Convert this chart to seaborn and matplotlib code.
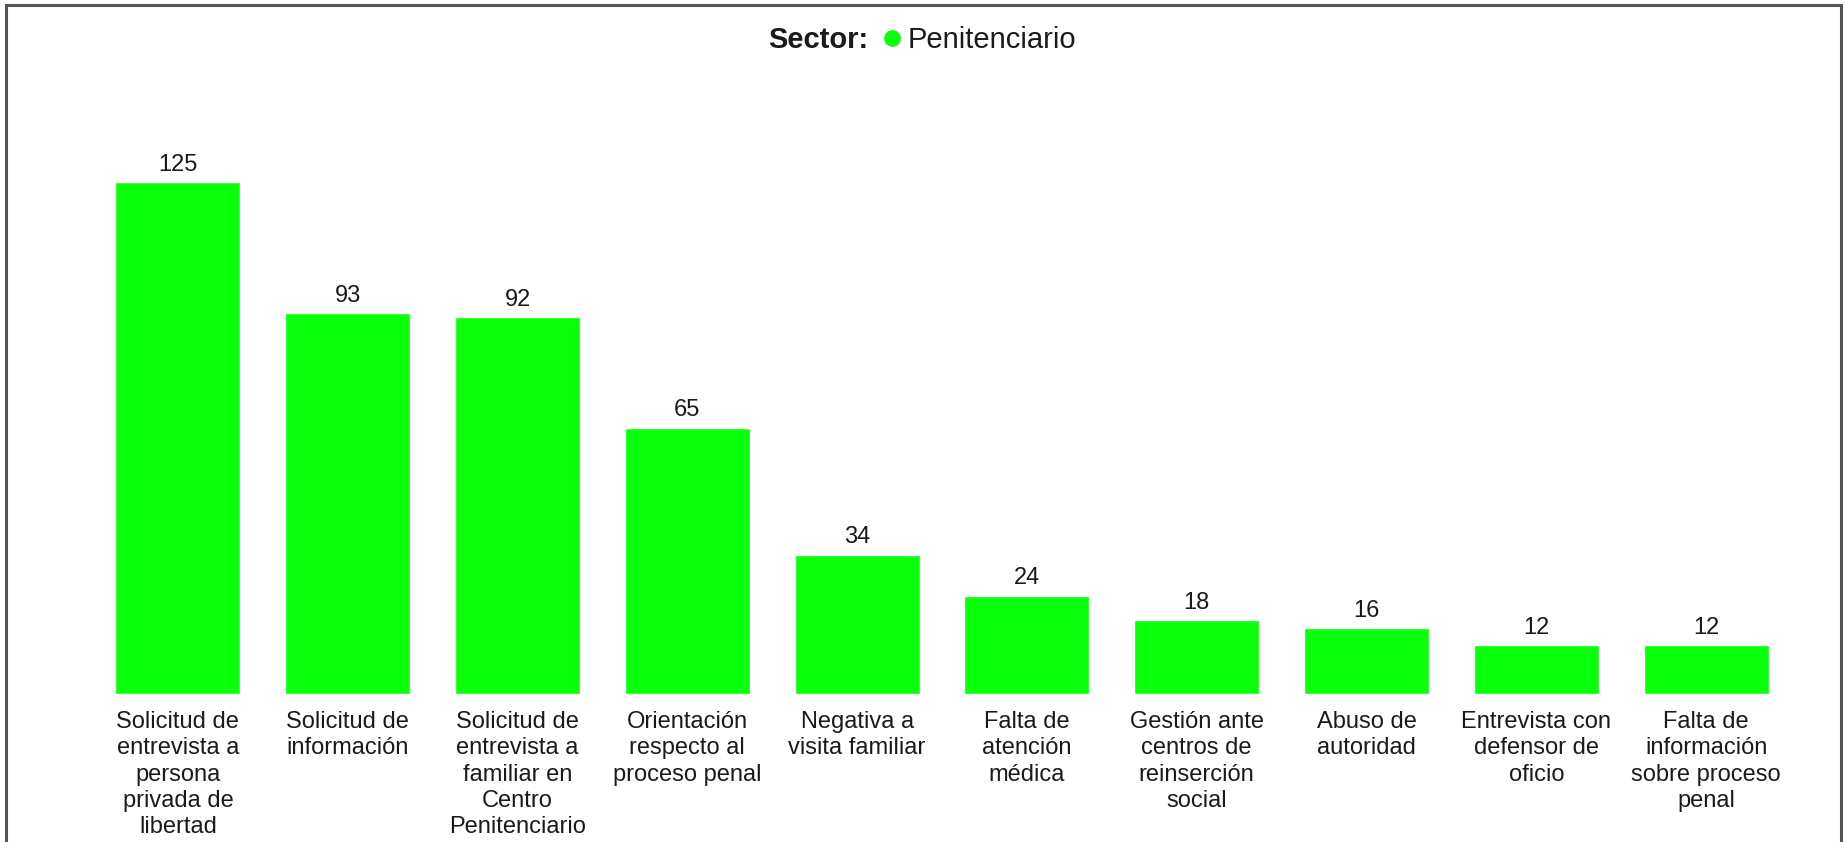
import numpy as np
import pandas as pd
import matplotlib.pyplot as plt
import seaborn as sns
from matplotlib.lines import Line2D
from matplotlib.patches import Rectangle

# datos del gráfico
categorias = [
    "Solicitud de\nentrevista a\npersona\nprivada de\nlibertad",
    "Solicitud de\ninformación",
    "Solicitud de\nentrevista a\nfamiliar en\nCentro\nPenitenciario",
    "Orientación\nrespecto al\nproceso penal",
    "Negativa a\nvisita familiar",
    "Falta de\natención\nmédica",
    "Gestión ante\ncentros de\nreinserción\nsocial",
    "Abuso de\nautoridad",
    "Entrevista con\ndefensor de\noficio",
    "Falta de\ninformación\nsobre proceso\npenal",
]
valores = [125, 93, 92, 65, 34, 24, 18, 16, 12, 12]
sector = "Penitenciario"
verde = "#0aff0a"

sns.set_style("white")
plt.rcParams['font.family'] = ['Liberation Sans', 'DejaVu Sans']

df = pd.DataFrame({"categoria": categorias, "valor": valores})

fig = plt.figure(figsize=(18.45, 8.42), dpi=100)
ax = fig.add_axes([93 / 1845, 148 / 842, 1698 / 1845, 594 / 842])

sns.barplot(data=df, x="categoria", y="valor", color=verde, saturation=1,
            width=0.736, ax=ax)

ax.bar_label(ax.containers[0], fontsize=17, padding=4.5, color="#1a1a1a")

ax.set_xlim(-0.5, len(categorias) - 0.5)
ax.set_ylim(0, 145)
ax.set_xlabel("")
ax.set_ylabel("")
ax.set_yticks([])
ax.tick_params(axis="x", length=0, pad=12.5, labelsize=17, labelcolor="#1a1a1a")
for lbl in ax.get_xticklabels():
    lbl.set_linespacing(1.24)
sns.despine(ax=ax, left=True, bottom=True)

# leyenda arriba
fig.text(868 / 1845, 1 - 40 / 842, "Sector:", ha="right", va="center",
         fontsize=21, fontweight="bold", color="#1a1a1a")
handle = Line2D([], [], marker="o", linestyle="", color=verde, markersize=11)
fig.legend([handle], [sector], loc="center left",
           bbox_to_anchor=(883 / 1845, 1 - 40 / 842), frameon=False,
           fontsize=21, borderaxespad=0, borderpad=0, handlelength=0.6,
           handletextpad=0.25, labelcolor="#1a1a1a")

# marco gris
fig.patches.append(Rectangle((6 / 1845, -0.05), 1835 / 1845, 1.05 - 5 / 842,
                             transform=fig.transFigure, fill=False,
                             edgecolor="#555555", linewidth=2.2))

fig.savefig("out.png", dpi=100)
